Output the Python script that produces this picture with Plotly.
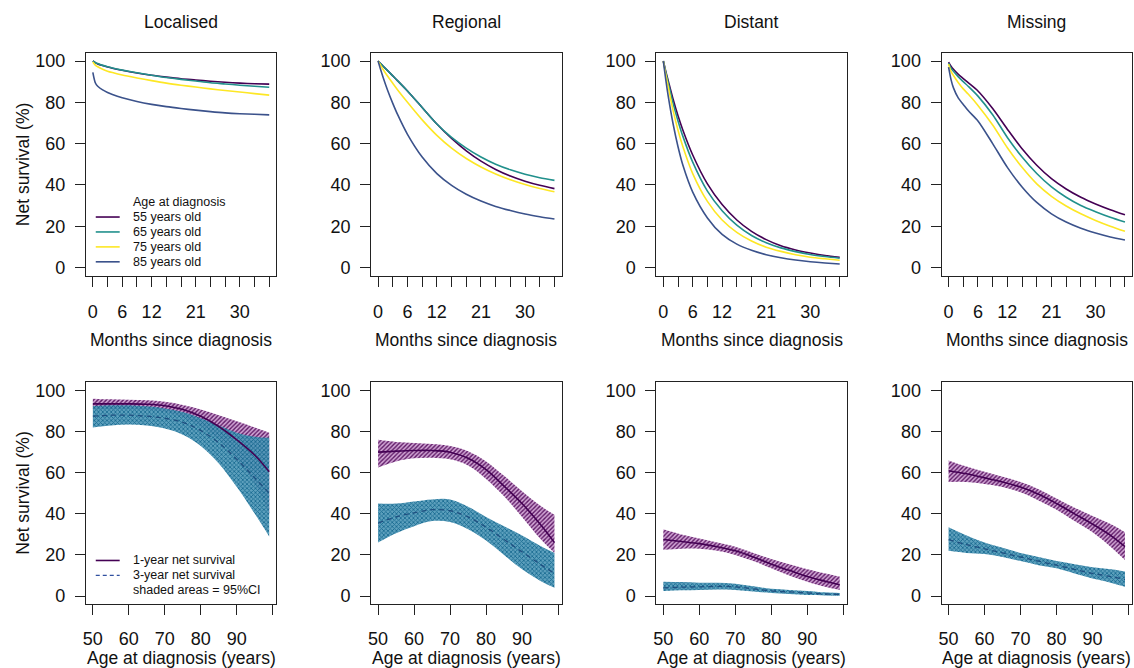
import plotly.graph_objects as go

W, H = 1134, 668
OFF = 0

stages = ["Localised", "Regional", "Distant", "Missing"]
age_groups = ["55 years old", "65 years old", "75 years old", "85 years old"]
age_colors = ["#440154", "#21908C", "#FDE725", "#3B528B"]

months = [0, 0.5, 1, 2, 3, 4, 6, 9, 12, 15, 18, 21, 24, 27, 30, 33, 36]
month_ticks = list(range(0, 37, 3))
month_labels = ["0", "", "6", "", "12", "", "", "21", "", "", "30", "", ""]

# Net survival (%) by months since diagnosis, per stage and age group
loc_55 = [100, 99.2, 98.6, 97.8, 97.1, 96.5, 95.5, 94.2, 93.1, 92.2, 91.4, 90.8, 90.2, 89.7, 89.3, 89.0, 88.8]
loc_65 = [100, 99.3, 98.8, 97.9, 97.2, 96.6, 95.6, 94.3, 93.1, 92.0, 91.1, 90.3, 89.5, 88.9, 88.3, 87.8, 87.3]
loc_75 = [99.5, 98.0, 97.2, 96.0, 95.1, 94.4, 93.2, 91.8, 90.5, 89.3, 88.3, 87.4, 86.5, 85.7, 85.0, 84.2, 83.5]
loc_85 = [94.5, 89.5, 87.8, 86.0, 84.8, 83.8, 82.2, 80.4, 79.0, 77.9, 77.0, 76.2, 75.5, 74.9, 74.5, 74.2, 73.9]

reg_55 = [100, 98.8, 97.6, 95.2, 92.8, 90.4, 85.5, 77.5, 69.5, 62.5, 56.5, 51.5, 47.5, 44.3, 41.8, 39.8, 38.2]
reg_65 = [100, 98.8, 97.6, 95.2, 92.8, 90.4, 85.5, 77.5, 69.5, 63.0, 57.8, 53.5, 50.0, 47.3, 45.2, 43.5, 42.2]
reg_75 = [100, 98.0, 96.0, 92.5, 89.2, 86.0, 80.0, 71.5, 64.0, 57.8, 52.8, 48.7, 45.3, 42.5, 40.2, 38.3, 36.7]
reg_85 = [100, 96.0, 92.3, 85.5, 79.5, 74.0, 64.5, 53.5, 45.5, 39.8, 35.5, 32.2, 29.6, 27.6, 25.9, 24.6, 23.5]

dis_55 = [100, 95, 90.5, 81.5, 73.5, 66.5, 54.5, 40.5, 30.5, 23.0, 17.5, 13.5, 10.5, 8.5, 7.0, 5.8, 5.0]
dis_65 = [100, 94.5, 89.5, 79.5, 71.0, 63.5, 51.0, 37.0, 27.5, 20.5, 15.5, 12.0, 9.5, 7.7, 6.3, 5.3, 4.5]
dis_75 = [100, 93.5, 87.5, 76.0, 66.5, 58.5, 45.5, 32.0, 23.0, 17.0, 12.8, 9.8, 7.8, 6.2, 5.0, 4.2, 3.5]
dis_85 = [100, 91, 83, 69.5, 58.5, 49.5, 36.5, 24.0, 16.0, 11.3, 8.3, 6.2, 4.7, 3.6, 2.8, 2.2, 1.7]

mis_55 = [99.5, 97.5, 96, 93.5, 91.5, 89.5, 85.5, 77.0, 67.0, 57.5, 49.5, 43.0, 38.0, 34.0, 30.8, 28.0, 25.5]
mis_65 = [99, 96.5, 95, 92.3, 90, 87.8, 83, 74, 63, 53.5, 45.5, 39.0, 34.0, 30.0, 27.0, 24.3, 22.0]
mis_75 = [98.5, 95, 93, 89.5, 86.5, 84, 78.5, 69, 58, 48.5, 40.5, 34.5, 29.8, 26.0, 22.8, 20.0, 17.5]
mis_85 = [97, 91, 87, 82, 79, 76, 71, 60, 48.5, 39.0, 31.5, 26.0, 22.0, 19.0, 16.7, 14.8, 13.3]

top_curves = [
    [loc_55, loc_65, loc_75, loc_85],
    [reg_55, reg_65, reg_75, reg_85],
    [dis_55, dis_65, dis_75, dis_85],
    [mis_55, mis_65, mis_75, mis_85],
]

ages = [50, 55, 60, 65, 70, 75, 80, 85, 90, 95, 99]
age_ticks = [50, 60, 70, 80, 90, 100]
age_labels = ["50", "60", "70", "80", "90", ""]

# 1-year and 3-year net survival (%) with 95% CI by age at diagnosis
loc_1y = [93.5, 93.5, 93.5, 93.3, 92.6, 90.8, 87.5, 82.5, 76.0, 68.5, 60.5]
loc_1y_lo = [91.0, 91.0, 91.0, 90.6, 89.5, 87.0, 82.5, 76.0, 66.5, 54.5, 40.0]
loc_1y_hi = [96.0, 95.7, 95.5, 95.2, 94.5, 93.0, 90.8, 88.0, 85.0, 82.0, 79.5]
loc_3y = [87.5, 88.0, 88.0, 87.5, 86.5, 84.5, 80.5, 74.5, 66.5, 57.5, 50.0]
loc_3y_lo = [82.0, 83.0, 83.5, 83.0, 81.5, 78.5, 73.0, 64.5, 53.0, 40.0, 29.0]
loc_3y_hi = [92.5, 92.8, 92.8, 92.3, 91.3, 89.5, 86.5, 83.0, 79.5, 77.5, 77.0]

reg_1y = [70, 70.5, 70.8, 70.8, 70.0, 67.0, 61.5, 53.5, 45.0, 35.0, 26.0]
reg_1y_lo = [62.5, 65.5, 67.0, 67.3, 66.5, 63.5, 57.0, 48.5, 38.5, 28.0, 21.0]
reg_1y_hi = [76, 75, 74.5, 74, 73, 70.5, 65.5, 58.5, 51.0, 44.0, 39.5]
reg_3y = [35.5, 38.5, 40.5, 42, 41.5, 38.5, 33.5, 27.5, 21.5, 15.5, 11]
reg_3y_lo = [26, 30.5, 34, 36.5, 36, 32.5, 27, 20, 13, 7.5, 4]
reg_3y_hi = [45, 45, 46, 47, 47, 43.5, 38.5, 34, 29.5, 24.5, 21]

dis_1y = [27.5, 26.5, 25.5, 24, 22, 19, 15.5, 12.5, 9.5, 7.2, 5.5]
dis_1y_lo = [22.5, 23, 23, 22, 20, 17, 13.5, 10, 7, 4.5, 3]
dis_1y_hi = [32.5, 30, 28, 26, 24, 21, 18, 15.5, 13, 11, 9.5]
dis_3y = [4, 4.3, 4.5, 4.7, 4.5, 3.5, 2.5, 2, 1.5, 1, 0.8]
dis_3y_lo = [2.5, 2.8, 3, 3.2, 3, 2.2, 1.5, 1, 0.5, 0.3, 0.2]
dis_3y_hi = [7, 6.8, 6.5, 6.5, 6, 4.8, 3.5, 3, 2.5, 1.8, 1.5]

mis_1y = [61, 59.5, 57.5, 55.5, 53, 49.5, 45, 40, 35, 29.5, 24]
mis_1y_lo = [55.5, 55.5, 54.5, 53, 50.5, 46.5, 42, 36.5, 31, 24, 17.5]
mis_1y_hi = [66, 63, 60.5, 58, 55.5, 52, 47.5, 43, 39, 35, 31]
mis_3y = [27.5, 25, 23, 21, 19, 17, 15, 13, 11, 9.5, 8]
mis_3y_lo = [22, 21, 20.5, 19, 17, 15, 13.5, 11, 8.5, 6.5, 4.5]
mis_3y_hi = [33.5, 29.5, 26, 23.5, 21, 19, 17, 15.5, 14, 13, 12]

bottom_data = [
    (loc_1y, loc_1y_lo, loc_1y_hi, loc_3y, loc_3y_lo, loc_3y_hi),
    (reg_1y, reg_1y_lo, reg_1y_hi, reg_3y, reg_3y_lo, reg_3y_hi),
    (dis_1y, dis_1y_lo, dis_1y_hi, dis_3y, dis_3y_lo, dis_3y_hi),
    (mis_1y, mis_1y_lo, mis_1y_hi, mis_3y, mis_3y_lo, mis_3y_hi),
]

FONT = "Liberation Sans, Arial, Helvetica, sans-serif"
# page-pixel positions of the plot boxes
col_left = [83, 369, 655, 941]
col_w = 191
top_box = (52, 276)
bot_box = (383, 606)


def fx(px):
    return (px - OFF) / W


def fy(py):
    return 1 - (py - OFF) / H


fig = go.Figure()
layout = {}

axis_common = dict(
    showline=True, mirror=True, linecolor="#222", linewidth=1,
    ticks="outside", ticklen=10, tickcolor="#222", tickwidth=1,
    showgrid=False, zeroline=False,
    tickfont=dict(family=FONT, size=18, color="#111"),
)

for i, stage in enumerate(stages):
    xd = [fx(col_left[i]), fx(col_left[i] + col_w)]
    # top row
    n = i + 1
    xa, ya = f"x{n}", f"y{n}"
    for j, curve in enumerate(top_curves[i]):
        fig.add_trace(go.Scatter(
            x=months, y=curve, mode="lines", xaxis=xa, yaxis=ya,
            line=dict(color=age_colors[j], width=1.6, shape="spline", smoothing=0.8),
            showlegend=False, hoverinfo="skip"))
    layout[f"xaxis{n}"] = dict(axis_common, domain=xd, anchor=ya, range=[-1.44, 37.44],
                               tickvals=month_ticks, ticktext=month_labels, ticklabelstandoff=10)
    layout[f"yaxis{n}"] = dict(axis_common, domain=[fy(top_box[1]), fy(top_box[0])], anchor=xa,
                               range=[-4, 104], tickvals=[0, 20, 40, 60, 80, 100], ticklabelstandoff=6)

    # bottom row
    n = i + 5
    xa, ya = f"x{n}", f"y{n}"
    s1, s1lo, s1hi, s3, s3lo, s3hi = bottom_data[i]
    # 1-year CI band (purple hatch)
    fig.add_trace(go.Scatter(x=ages, y=s1hi, mode="lines", xaxis=xa, yaxis=ya,
                             line=dict(width=0, shape="spline"), showlegend=False, hoverinfo="skip"))
    fig.add_trace(go.Scatter(x=ages, y=s1lo, mode="lines", xaxis=xa, yaxis=ya,
                             line=dict(width=0, shape="spline"), fill="tonexty",
                             fillcolor="rgba(0,0,0,0)",
                             fillpattern=dict(shape="/", fgcolor="#5e1a66", bgcolor="rgba(206,160,210,0.95)",
                                              size=3, solidity=0.45, fgopacity=1),
                             showlegend=False, hoverinfo="skip"))
    # 3-year CI band (teal hatch)
    fig.add_trace(go.Scatter(x=ages, y=s3hi, mode="lines", xaxis=xa, yaxis=ya,
                             line=dict(width=0, shape="spline"), showlegend=False, hoverinfo="skip"))
    fig.add_trace(go.Scatter(x=ages, y=s3lo, mode="lines", xaxis=xa, yaxis=ya,
                             line=dict(width=0, shape="spline"), fill="tonexty",
                             fillcolor="rgba(0,0,0,0)",
                             fillpattern=dict(shape="x", fgcolor="#16688f", bgcolor="rgba(75,150,182,0.9)",
                                              size=3, solidity=0.45, fgopacity=1),
                             showlegend=False, hoverinfo="skip"))
    fig.add_trace(go.Scatter(x=ages, y=s1, mode="lines", xaxis=xa, yaxis=ya,
                             line=dict(color="#440154", width=1.6, shape="spline"),
                             showlegend=False, hoverinfo="skip"))
    fig.add_trace(go.Scatter(x=ages, y=s3, mode="lines", xaxis=xa, yaxis=ya,
                             line=dict(color="#1f4f80", width=1.3, dash="5px,4px", shape="spline"),
                             showlegend=False, hoverinfo="skip"))
    layout[f"xaxis{n}"] = dict(axis_common, domain=xd, anchor=ya, range=[48.04, 100.96],
                               tickvals=age_ticks, ticktext=age_labels, ticklabelstandoff=8)
    layout[f"yaxis{n}"] = dict(axis_common, domain=[fy(bot_box[1]), fy(bot_box[0])], anchor=xa,
                               range=[-4, 104], tickvals=[0, 20, 40, 60, 80, 100], ticklabelstandoff=6)

annotations = []
shapes = []


def px_ann(text, x, y, size=17.5, angle=0, xanchor="center", yanchor="middle"):
    annotations.append(dict(text=text, x=fx(x), y=fy(y), xref="paper", yref="paper",
                            showarrow=False, textangle=angle, xanchor=xanchor, yanchor=yanchor,
                            font=dict(family=FONT, size=size, color="#111")))


for i, stage in enumerate(stages):
    cx = col_left[i] + col_w / 2
    px_ann(stage, cx, 21, size=17.5)
    px_ann("Months since diagnosis", cx, 341, size=17.5)
    px_ann("Age at diagnosis (years)", cx, 660, size=17.5)

px_ann("Net survival (%)", 20, 164, size=17.5, angle=-90)
px_ann("Net survival (%)", 20, 494, size=17.5, angle=-90)

# legend (top-left)
px_ann("Age at diagnosis", 128, 202, size=12.5, xanchor="left")
for j, (lab, col) in enumerate(zip(age_groups, age_colors)):
    yy = 217 + 15 * j
    shapes.append(dict(type="line", xref="paper", yref="paper", x0=fx(93), x1=fx(117),
                       y0=fy(yy), y1=fy(yy), line=dict(color=col, width=1.6)))
    px_ann(lab, 128, yy, size=12.5, xanchor="left")

# legend (bottom-left)
shapes.append(dict(type="line", xref="paper", yref="paper", x0=fx(93), x1=fx(117),
                   y0=fy(562), y1=fy(562), line=dict(color="#440154", width=1.6)))
shapes.append(dict(type="line", xref="paper", yref="paper", x0=fx(93), x1=fx(117),
                   y0=fy(577), y1=fy(577), line=dict(color="#3050a0", width=1.3, dash="4px,3px")))
px_ann("1-year net survival", 128, 562, size=12.5, xanchor="left")
px_ann("3-year net survival", 128, 577, size=12.5, xanchor="left")
px_ann("shaded areas = 95%CI", 128, 592, size=12.5, xanchor="left")

fig.update_layout(
    width=W, height=H, margin=dict(l=0, r=0, t=0, b=0),
    paper_bgcolor="white", plot_bgcolor="white",
    showlegend=False, annotations=annotations, shapes=shapes,
    font=dict(family=FONT, color="#111"),
    **layout,
)

fig.write_html(
    "out.html",
    config={"displayModeBar": False},
    post_script="document.body.style.margin='0';document.body.style.overflow='hidden';",
)
